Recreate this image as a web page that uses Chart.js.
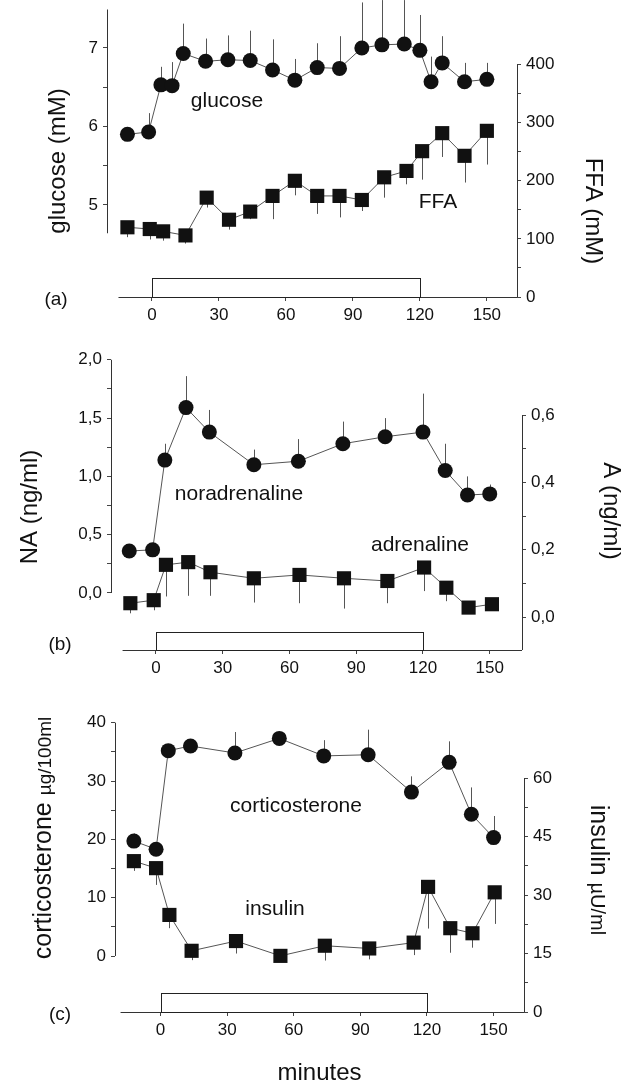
<!DOCTYPE html>
<html>
<head>
<meta charset="utf-8">
<script src="https://cdn.jsdelivr.net/npm/chart.js@4.4.1/dist/chart.umd.min.js"></script>
<style>
  html, body { margin: 0; padding: 0; background: #fff; }
  #wrap { position: relative; width: 637px; height: 1088px; }
  canvas { position: absolute; left: 0; }
</style>
</head>
<body>
<div id="wrap">
  <canvas id="pa" width="637" height="340" style="top:0px"></canvas>
  <canvas id="pb" width="637" height="345" style="top:345px"></canvas>
  <canvas id="pc" width="637" height="398" style="top:690px"></canvas>
</div>
<script>
// ---- data ----
const minuteTicks = [0, 30, 60, 90, 120, 150];
const infusion = [0, 120];

// (a) glucose (mM, left) and FFA (right)
const glucoseTime = [-11, -1.5, 4, 9, 14, 24, 34, 44, 54, 64, 74, 84, 94, 103, 113, 120, 125, 130, 140, 150];
const glucose     = [5.90, 5.93, 6.53, 6.52, 6.93, 6.83, 6.85, 6.84, 6.72, 6.59, 6.75, 6.74, 7.00, 7.04, 7.05, 6.97, 6.57, 6.81, 6.57, 6.60];
const glucoseErr  = [0.09, 0.24, 0.23, 0.30, 0.38, 0.29, 0.31, 0.38, 0.39, 0.27, 0.31, 0.41, 0.58, 0.57, 0.56, 0.45, 0.32, 0.34, 0.24, 0.21];
const ffaTime = [-11, -1, 5, 15, 24.5, 34.5, 44, 54, 64, 74, 84, 94, 104, 114, 121, 130, 140, 150];
const ffa     = [120, 117, 113, 106, 171, 133, 147, 174, 200, 174, 174, 167, 206, 217, 251, 282, 243, 286];
const ffaErr  = [17, 18, 16, 14, 17, 17, 13, 40, 25, 31, 37, 19, 35, 23, 49, 41, 46, 58];
const glucoseTicks = [5, 6, 7];
const ffaTicks = [0, 100, 200, 300, 400];

// (b) noradrenaline (left) and adrenaline (right), ng/ml
const naTime = [-12, -1.5, 4, 13.5, 24, 44, 64, 84, 103, 120, 130, 140, 150];
const na     = [0.36, 0.37, 1.14, 1.59, 1.38, 1.10, 1.13, 1.28, 1.34, 1.38, 1.05, 0.84, 0.85];
const naErr  = [0.03, 0.03, 0.14, 0.27, 0.19, 0.13, 0.19, 0.19, 0.16, 0.33, 0.23, 0.16, 0.08];
const aTime = [-11.5, -1, 4.5, 14.5, 24.5, 44, 64.5, 84.5, 104, 120.5, 130.5, 140.5, 151];
const adr   = [0.041, 0.050, 0.155, 0.163, 0.133, 0.115, 0.125, 0.115, 0.107, 0.147, 0.087, 0.028, 0.038];
const adrErr = [0.03, 0.03, 0.094, 0.10, 0.07, 0.072, 0.084, 0.09, 0.066, 0.07, 0.04, 0.019, 0.019];
const naTicks = [0, 0.5, 1, 1.5, 2];
const aTicks = [0, 0.2, 0.4, 0.6];

// (c) corticosterone (left) and insulin (right)
const cortTime = [-12, -2, 3.5, 13.5, 33.5, 53.5, 73.5, 93.5, 113, 130, 140, 150];
const cort     = [19.7, 18.3, 35.2, 36.0, 34.8, 37.3, 34.3, 34.5, 28.1, 33.2, 24.3, 20.3];
const cortErr  = [1.3, 0.5, 0.5, 1.1, 3.6, 1.1, 2.7, 4.3, 2.7, 3.6, 4.6, 3.7];
const insTime = [-12, -2, 4, 14, 34, 54, 74, 94, 114, 120.5, 130.5, 140.5, 150.5];
const insulin = [38.7, 36.9, 24.9, 15.7, 18.2, 14.4, 17.0, 16.3, 17.8, 32.1, 21.5, 20.2, 30.7];
const insErr  = [2.5, 4.3, 3.4, 2.4, 3.2, 1.0, 3.8, 2.8, 3.2, 10.7, 6.3, 3.7, 8.1];
const cortTicks = [0, 10, 20, 30, 40];
const insTicks = [0, 15, 30, 45, 60];

const FONT = '"Liberation Sans", Arial, sans-serif';
const INK = '#111';

function pts(xs, ys) { return xs.map((x, i) => ({ x: x, y: ys[i] })); }
function steps(lo, hi, step) {
  const out = [];
  for (let v = Math.ceil(lo / step - 1e-9) * step; v <= hi + 1e-9; v += step) out.push(Math.round(v * 1000) / 1000);
  return out;
}
function hasTick(list, v) { return list.some(t => Math.abs(t - v) < 1e-6); }
const comma = v => v.toFixed(1).replace('.', ',');

function series(xs, ys, err, dir, axis, style) {
  return {
    type: 'line', data: pts(xs, ys), yAxisID: axis, err: err, errDir: dir,
    pointStyle: style, pointRadius: style === 'rect' ? 10 : 7.5, pointHoverRadius: 0,
    backgroundColor: INK, pointBorderWidth: 0, borderColor: '#555', borderWidth: 1,
    clip: false
  };
}

const extras = {
  id: 'extras',
  beforeDatasetsDraw(chart, args, o) {
    const ctx = chart.ctx, ca = chart.chartArea;
    ctx.save();
    ctx.strokeStyle = '#333';
    ctx.lineWidth = 1;
    ['x', 'y', 'y2'].forEach(id => {
      const s = chart.scales[id], sp = o.spans[id];
      ctx.beginPath();
      if (id === 'x') {
        const y = Math.round(ca.bottom) + 0.5;
        ctx.moveTo(s.getPixelForValue(sp[0]), y);
        ctx.lineTo(s.getPixelForValue(sp[1]), y);
      } else {
        const x = Math.round(id === 'y' ? ca.left : ca.right) + 0.5;
        ctx.moveTo(x, s.getPixelForValue(sp[0]));
        ctx.lineTo(x, s.getPixelForValue(sp[1]));
      }
      ctx.stroke();
    });
    // period bar
    const xs = chart.scales.x;
    const x0 = Math.round(xs.getPixelForValue(infusion[0])) + 0.5;
    const x1 = Math.round(xs.getPixelForValue(infusion[1])) + 0.5;
    const yb = Math.round(ca.bottom) + 0.5;
    ctx.fillStyle = '#fff';
    ctx.fillRect(x0, yb - o.barHeight, x1 - x0, o.barHeight);
    ctx.strokeStyle = '#222';
    ctx.strokeRect(x0, yb - o.barHeight, x1 - x0, o.barHeight);
    // error bars
    ctx.strokeStyle = '#555';
    chart.data.datasets.forEach((ds, i) => {
      const meta = chart.getDatasetMeta(i), ys = chart.scales[ds.yAxisID];
      meta.data.forEach((pt, j) => {
        const end = ys.getPixelForValue(ds.data[j].y + ds.errDir * ds.err[j]);
        const x = Math.round(pt.x) + 0.5;
        ctx.beginPath();
        ctx.moveTo(x, pt.y);
        ctx.lineTo(x, end);
        ctx.stroke();
      });
    });
    ctx.restore();
  },
  afterDatasetsDraw(chart, args, o) {
    const ctx = chart.ctx;
    o.texts.forEach(t => {
      ctx.save();
      ctx.fillStyle = INK;
      ctx.translate(t.x, t.y);
      if (t.rot) ctx.rotate(t.rot * Math.PI / 2);
      let total = 0;
      t.parts.forEach(p => { ctx.font = p[1] + 'px ' + FONT; total += ctx.measureText(p[0]).width; });
      let cx = -total / 2;
      const base = t.parts[0][1] * 0.36;
      ctx.textAlign = 'left';
      ctx.textBaseline = 'alphabetic';
      t.parts.forEach(p => {
        ctx.font = p[1] + 'px ' + FONT;
        ctx.fillText(p[0], cx, base);
        cx += ctx.measureText(p[0]).width;
      });
      ctx.restore();
    });
  }
};

function yAxis(pos, min, max, all, labeled, fmt, width) {
  return {
    type: 'linear', position: pos, min: min, max: max,
    afterBuildTicks: s => { s.ticks = all.map(v => ({ value: v })); },
    ticks: {
      autoSkip: false, color: INK, padding: 5, font: { family: FONT, size: 17 },
      callback: v => hasTick(labeled, v) ? fmt(v) : ''
    },
    grid: { display: true, drawOnChartArea: false, drawTicks: true, tickLength: 4, color: '#444' },
    border: { display: false },
    afterFit: s => { s.width = width; s.paddingTop = 0; s.paddingBottom = 0; }
  };
}

function makePanel(id, p) {
  const H = document.getElementById(id).height;
  new Chart(document.getElementById(id), {
    data: { datasets: p.datasets },
    plugins: [extras],
    options: {
      responsive: false, animation: false, devicePixelRatio: 1,
      layout: { padding: 0, autoPadding: false },
      plugins: {
        legend: { display: false }, tooltip: { enabled: false },
        extras: { spans: p.spans, barHeight: p.barHeight, texts: p.texts }
      },
      scales: {
        x: {
          type: 'linear', min: p.x[0], max: p.x[1],
          afterBuildTicks: s => { s.ticks = minuteTicks.map(v => ({ value: v })); },
          ticks: { autoSkip: false, maxRotation: 0, color: INK, padding: 4, font: { family: FONT, size: 17 } },
          grid: { display: true, drawOnChartArea: false, drawTicks: true, tickLength: 4, color: '#444' },
          border: { display: false },
          title: p.xTitle ? { display: true, text: p.xTitle, color: INK, font: { family: FONT, size: 24 }, padding: { top: 0, bottom: 0 } } : { display: false },
          afterFit: s => { s.height = H - p.bottom; s.paddingLeft = 0; s.paddingRight = 0; }
        },
        y: yAxis('left', p.y[0], p.y[1], p.yAll, p.yLab, p.yFmt, p.left),
        y2: yAxis('right', p.y2[0], p.y2[1], p.y2All, p.y2Lab, p.y2Fmt, 637 - p.right)
      }
    }
  });
}

makePanel('pa', {
  left: 107, right: 517, bottom: 297,
  x: [-20.15, 163.5], y: [3.828, 7.611], y2: [0, 511.2],
  yAll: steps(5, 7, 0.5), yLab: glucoseTicks, yFmt: v => String(v),
  y2All: steps(0, 400, 50), y2Lab: ffaTicks, y2Fmt: v => String(v),
  spans: { x: [-15, 163.5], y: [4.64, 7.49], y2: [0, 400] },
  barHeight: 19,
  datasets: [
    series(glucoseTime, glucose, glucoseErr, 1, 'y', 'circle'),
    series(ffaTime, ffa, ffaErr, -1, 'y2', 'rect')
  ],
  texts: [
    { parts: [['(a)', 19]], x: 56, y: 298 },
    { parts: [['glucose', 21]], x: 227, y: 99 },
    { parts: [['FFA', 21]], x: 438, y: 200 },
    { parts: [['glucose (mM)', 24]], x: 56, y: 161, rot: -1 },
    { parts: [['FFA (mM)', 24]], x: 595, y: 211, rot: 1 }
  ]
});

makePanel('pb', {
  left: 111, right: 522, bottom: 305,
  x: [-20.2, 164.5], y: [-0.489, 2.127], y2: [-0.098, 0.808],
  yAll: steps(0, 2, 0.25), yLab: naTicks, yFmt: comma,
  y2All: steps(-0.05, 0.6, 0.1), y2Lab: aTicks, y2Fmt: comma,
  spans: { x: [-15, 164.5], y: [0, 2], y2: [-0.098, 0.6] },
  barHeight: 18,
  datasets: [
    series(naTime, na, naErr, 1, 'y', 'circle'),
    series(aTime, adr, adrErr, -1, 'y2', 'rect')
  ],
  texts: [
    { parts: [['(b)', 19]], x: 60, y: 298 },
    { parts: [['noradrenaline', 21]], x: 239, y: 147 },
    { parts: [['adrenaline', 21]], x: 420, y: 198 },
    { parts: [['NA (ng/ml)', 24]], x: 28, y: 162, rot: -1 },
    { parts: [['A (ng/ml)', 24]], x: 613, y: 166, rot: 1 }
  ]
});

makePanel('pc', {
  left: 115, right: 524, bottom: 322,
  x: [-20.5, 163.7], y: [-9.6, 45.6], y2: [0, 82.6],
  yAll: steps(0, 40, 5), yLab: cortTicks, yFmt: v => String(v),
  y2All: steps(0, 60, 7.5), y2Lab: insTicks, y2Fmt: v => String(v),
  spans: { x: [-18, 163.7], y: [0, 40], y2: [0, 60] },
  barHeight: 19,
  xTitle: 'minutes',
  datasets: [
    series(cortTime, cort, cortErr, 1, 'y', 'circle'),
    series(insTime, insulin, insErr, -1, 'y2', 'rect')
  ],
  texts: [
    { parts: [['(c)', 19]], x: 60, y: 323 },
    { parts: [['corticosterone', 21]], x: 296, y: 114 },
    { parts: [['insulin', 21]], x: 275, y: 217 },
    { parts: [['corticosterone ', 25], ['\u00b5g/100ml', 19]], x: 42, y: 148, rot: -1 },
    { parts: [['insulin ', 25], ['\u00b5U/ml', 20]], x: 600, y: 180, rot: 1 }
  ]
});
</script>
</body>
</html>
